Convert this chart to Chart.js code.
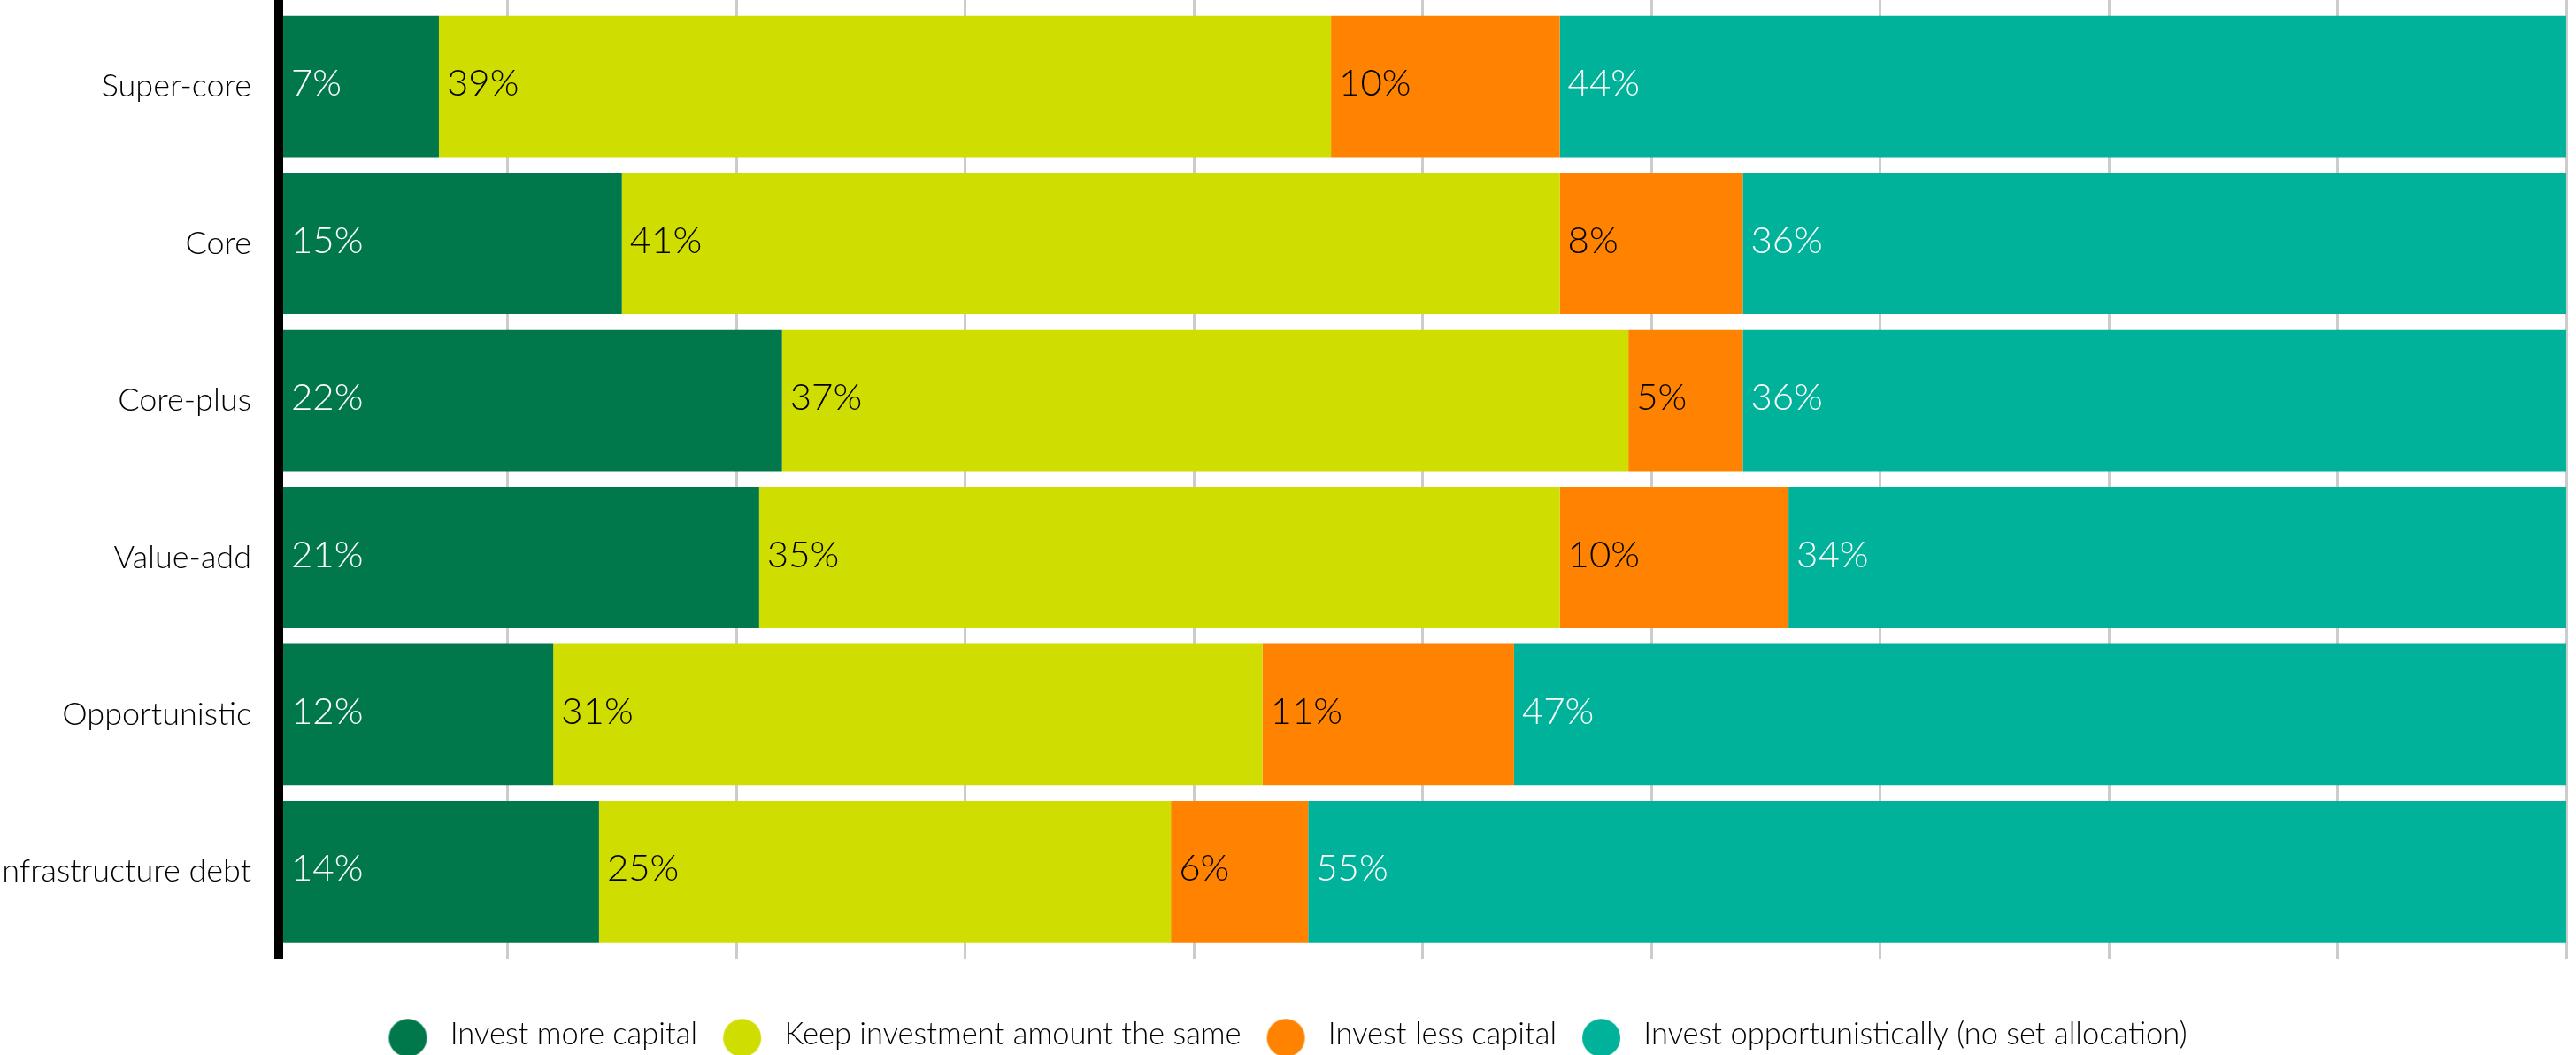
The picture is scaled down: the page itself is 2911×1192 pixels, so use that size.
<!DOCTYPE html>
<html>
<head>
<meta charset="utf-8">
<script src="https://cdn.jsdelivr.net/npm/chart.js@4.4.1/dist/chart.umd.min.js"></script>
<style>
  html, body { margin: 0; padding: 0; background: #fff; }
  #wrap { width: 2911px; height: 1192px; position: relative; }
</style>
</head>
<body>
<div id="wrap"><canvas id="barchart"></canvas></div>
<script>
const categories = ["Super-core", "Core", "Core-plus", "Value-add", "Opportunistic", "Infrastructure debt"];

const investMore = [7, 15, 22, 21, 12, 14];
const keepSame = [39, 41, 37, 35, 31, 25];
const investLess = [10, 8, 5, 10, 11, 6];
const opportunistic = [44, 36, 36, 34, 47, 55];

const seriesNames = [
  "Invest more capital",
  "Keep investment amount the same",
  "Invest less capital",
  "Invest opportunistically (no set allocation)",
];
const seriesColors = ["#00784b", "#d0dd00", "#ff8300", "#00b299"];
const labelColors = ["#ffffff", "#000000", "#000000", "#ffffff"];

const xTicks = [0, 10, 20, 30, 40, 50, 60, 70, 80, 90, 100];

Chart.defaults.font.family = "Lato, 'Open Sans', sans-serif";
Chart.defaults.color = "#000";

// round legend markers, drawn into small canvases so the gap to the text can be set
function makeDot(color) {
  const c = document.createElement("canvas");
  c.width = 63;
  c.height = 51;
  const g = c.getContext("2d");
  g.fillStyle = color;
  g.beginPath();
  g.arc(32.5, 29.5, 21.5, 0, Math.PI * 2);
  g.fill();
  return c;
}
const dots = seriesColors.map(makeDot);

// percentage written at the left end of every segment
const segmentLabels = {
  id: "segmentLabels",
  afterDatasetsDraw(chart) {
    const { ctx } = chart;
    ctx.save();
    ctx.font = "300 42px Lato, 'Open Sans', sans-serif";
    ctx.textAlign = "left";
    ctx.textBaseline = "middle";
    chart.data.datasets.forEach((ds, i) => {
      const meta = chart.getDatasetMeta(i);
      ctx.fillStyle = labelColors[i];
      meta.data.forEach((bar, j) => {
        const left = Math.min(bar.x, bar.base);
        ctx.fillText(ds.data[j] + "%", left + 9, bar.y - 3);
      });
    });
    ctx.restore();
  },
};

const gridColor = (c) => (c.tick && c.tick.value === 0 ? "#000000" : "#cccccc");
const gridWidth = (c) => (c.tick && c.tick.value === 0 ? 10 : 3);

const ctx = document.getElementById("barchart").getContext("2d");

let barChart = new Chart(ctx, {
  type: "bar",
  data: {
    labels: categories,
    datasets: [investMore, keepSame, investLess, opportunistic].map((values, i) => ({
      label: seriesNames[i],
      data: values,
      backgroundColor: seriesColors[i],
      borderWidth: 0,
      barPercentage: 0.9,
      categoryPercentage: 1,
    })),
  },
  options: {
    indexAxis: "y",
    responsive: true,
    maintainAspectRatio: false,
    animation: false,
    layout: { padding: { right: 11, bottom: -4 } },
    scales: {
      x: {
        stacked: true,
        min: 0,
        max: 100,
        afterBuildTicks: (scale) => {
          scale.ticks = xTicks.map((v) => ({ value: v }));
        },
        afterFit: (scale) => {
          scale.height = 60;
        },
        ticks: { display: false },
        grid: { color: gridColor, lineWidth: gridWidth, tickLength: 10 },
        border: { display: false },
      },
      x2: {
        type: "linear",
        display: true,
        position: "top",
        min: 0,
        max: 100,
        afterBuildTicks: (scale) => {
          scale.ticks = xTicks.map((v) => ({ value: v }));
        },
        ticks: { display: false },
        grid: { drawOnChartArea: false, color: gridColor, lineWidth: gridWidth, tickLength: 9 },
        border: { display: false },
      },
      y: {
        stacked: true,
        afterFit: (scale) => {
          scale.width = 315;
          scale.paddingTop = 0;
          scale.paddingBottom = 0;
        },
        ticks: {
          padding: 31,
          font: { size: 36, weight: 300 },
          color: "#000",
        },
        grid: { display: false, drawTicks: false },
        border: { display: false },
      },
    },
    plugins: {
      tooltip: { enabled: false },
      legend: {
        position: "bottom",
        labels: {
          usePointStyle: true,
          pointStyleWidth: 63,
          boxHeight: 34,
          padding: 18,
          color: "#000",
          font: { size: 34.5, weight: 300 },
          generateLabels: (chart) => {
            const items = Chart.defaults.plugins.legend.labels.generateLabels(chart);
            items.forEach((item, i) => {
              item.pointStyle = dots[i];
            });
            return items;
          },
        },
      },
    },
  },
  plugins: [segmentLabels],
});
</script>
</body>
</html>
